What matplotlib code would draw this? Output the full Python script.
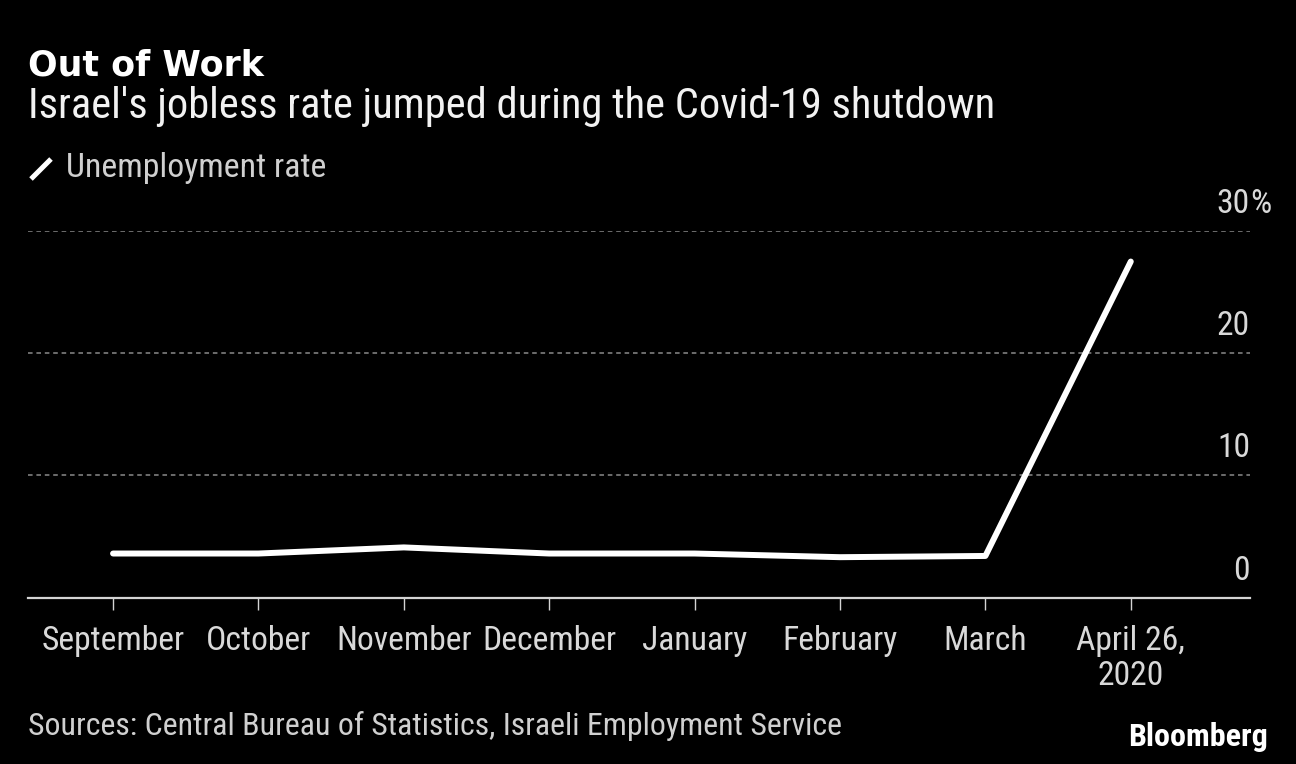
import numpy as np
from matplotlib import pyplot as plt
from matplotlib import font_manager as fm
from matplotlib.transforms import offset_copy

# ------ data

months = ["September", "October", "November", "December",
          "January", "February", "March", "April 26,\n2020"]
rate = [3.6, 3.6, 4.1, 3.6, 3.6, 3.3, 3.4, 27.5]          # percent
yticks = [0, 10, 20, 30]
ytick_labels = ["0", "10", "20", "30%"]

title = "Out of Work"
subtitle = "Israel's jobless rate jumped during the Covid-19 shutdown"
legend_label = "Unemployment rate"
source = "Sources: Central Bureau of Statistics, Israeli Employment Service"

# ------ font


def pick_font(cands):
    for c in cands:
        try:
            fm.findfont(fm.FontProperties(family=c), fallback_to_default=False)
            return c
        except ValueError:
            continue
    return "DejaVu Sans"


FONT = pick_font(["Roboto Condensed", "Liberation Sans Narrow", "Open Sans Condensed"])
plt.rcParams["font.family"] = [FONT, "DejaVu Sans"]
if FONT == "DejaVu Sans":
    plt.rcParams["font.stretch"] = "condensed"

W, H = 1296, 764
fig = plt.figure(figsize=(W / 100, H / 100), dpi=100, facecolor="black")
r = fig.canvas.get_renderer()


def px(x, y):
    return x / W, 1 - y / H


def fit(t, width):
    w = t.get_window_extent(r).width
    t.set_fontsize(t.get_fontsize() * width / w)
    return t


# ------ axes

ax = fig.add_axes([28 / W, 1 - 597.5 / H, (1250 - 28) / W, (597.5 - 231) / H])
ax.set_facecolor("black")
x = np.arange(len(months))
ax.plot(x, rate, color="white", lw=4.3, solid_capstyle="round", solid_joinstyle="round", zorder=3)
ax.set_xlim(-0.585, 7.82)
ax.set_ylim(0, 30)

for s in ["top", "left", "right"]:
    ax.spines[s].set_visible(False)
ax.spines["bottom"].set_color("#d4d4d4")
ax.spines["bottom"].set_linewidth(1.6)
ax.spines["bottom"].set_zorder(4)

for v in yticks[1:]:
    ax.axhline(v, color="#8a8a8a", lw=1.1, ls=(0, (3, 2.5)), zorder=1)
ax.set_yticks([])

# tick label size from the width of "September"
tmp = fig.text(0, 0, "September", fontsize=20)
fit(tmp, 143)
tick_fs = tmp.get_fontsize()
tmp.remove()

ax.set_xticks(x)
ax.set_xticklabels(months, fontsize=tick_fs, color="#d9d9d9", linespacing=1.15)
ax.tick_params(axis="x", direction="out", length=8.5, width=1.0, color="#d4d4d4", pad=11)

ytrans = offset_copy(ax.get_yaxis_transform(), fig=fig, y=18, units="dots")
for v, lab in zip(yticks, ytick_labels):
    num = lab.rstrip("%")
    ax.text(1.0, v, num, transform=ytrans, ha="right", va="baseline",
            fontsize=tick_fs, color="#d9d9d9")
    if lab != num:
        ax.text(1.0, v, lab[len(num):], transform=ytrans, ha="left", va="baseline",
                fontsize=tick_fs, color="#d9d9d9")

# ------ texts

t = fig.text(*px(28, 76), title, fontsize=24, fontweight="bold", color="white",
             va="baseline", family="DejaVu Sans")
fit(t, 236)
t = fig.text(*px(28, 118), subtitle, fontsize=24, color="#f2f2f2", va="baseline")
fit(t, 970)

fig.add_artist(plt.Line2D([31 / W, 51 / W], [1 - 179 / H, 1 - 159 / H],
                          transform=fig.transFigure, color="white", lw=3.6,
                          solid_capstyle="butt"))
t = fig.text(*px(66, 177), legend_label, fontsize=20, color="#d0d0d0", va="baseline")
fit(t, 259)

t = fig.text(*px(28, 735), source, fontsize=20, color="#d0d0d0", va="baseline")
fit(t, 814)
t = fig.text(*px(1268, 746), "Bloomberg", fontsize=18, fontweight="bold", color="white",
             ha="right", va="baseline")
fit(t, 140)

fig.savefig("out.png", dpi=100, facecolor="black")
